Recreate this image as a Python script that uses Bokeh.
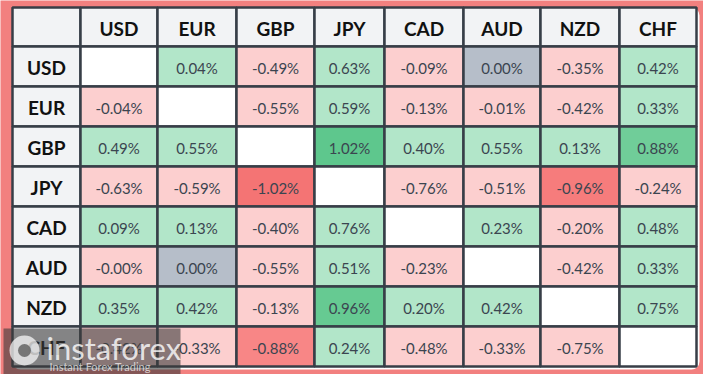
import math
from bokeh.plotting import figure
from bokeh.models import ColumnDataSource, Range1d, BoxAnnotation
from bokeh.core.properties import value
from bokeh.embed import file_html
from bokeh.resources import INLINE

# Currency strength matrix: percentage change of row currency against column currency
currencies = ["USD", "EUR", "GBP", "JPY", "CAD", "AUD", "NZD", "CHF"]
usd = [None, 0.04, -0.49, 0.63, -0.09, 0.00, -0.35, 0.42]
eur = [-0.04, None, -0.55, 0.59, -0.13, -0.01, -0.42, 0.33]
gbp = [0.49, 0.55, None, 1.02, 0.40, 0.55, 0.13, 0.88]
jpy = [-0.63, -0.59, -1.02, None, -0.76, -0.51, -0.96, -0.24]
cad = [0.09, 0.13, -0.40, 0.76, None, 0.23, -0.20, 0.48]
aud = [-0.0, 0.00, -0.55, 0.51, -0.23, None, -0.42, 0.33]
nzd = [0.35, 0.42, -0.13, 0.96, 0.20, 0.42, None, 0.75]
chf = [-0.42, -0.33, -0.88, 0.24, -0.48, -0.33, -0.75, None]
rows = [usd, eur, gbp, jpy, cad, aud, nzd, chf]

W, H = 703, 374
BG = "#f2807f"
GRID = "#373e47"
HEADER_BG = "#f2f3f5"

# table geometry (pixels)
x0, y0 = 12, 7
col_widths = [68, 77, 79, 78, 70, 79, 77, 79, 77]
row_heights = [39] + [40] * 8
col_edges = [x0]
for w in col_widths:
    col_edges.append(col_edges[-1] + w)
row_edges = [y0]
for h in row_heights:
    row_edges.append(row_edges[-1] + h)


def hex_to_rgb(h):
    h = h.lstrip("#")
    return tuple(int(h[i:i + 2], 16) for i in (0, 2, 4))


def mix(c1, c2, t):
    a, b = hex_to_rgb(c1), hex_to_rgb(c2)
    return "#%02x%02x%02x" % tuple(round(a[i] + (b[i] - a[i]) * t) for i in range(3))


def cell_color(v):
    if v is None:
        return "#ffffff"
    if v == 0 and math.copysign(1, v) > 0:
        return "#b6bec9"
    a = abs(v)
    if v > 0:
        light, mid, strong = "#b2e6c9", "#7ad1a0", "#5ec78d"
    else:
        light, mid, strong = "#fccfcf", "#fb9090", "#f47474"
    if a < 0.8:
        return light
    return mix(mid, strong, min(1.0, (a - 0.8) / 0.22))


p = figure(width=W, height=H, x_range=Range1d(0, W), y_range=Range1d(H, 0),
           toolbar_location=None, output_backend="svg", min_border=0)
p.axis.visible = False
p.grid.visible = False
p.outline_line_color = None
p.background_fill_color = BG
p.border_fill_color = BG

# white panel behind the table
p.add_layout(BoxAnnotation(left=x0, right=col_edges[-1] + 3, top=y0, bottom=row_edges[-1] + 3,
                           fill_color="#ffffff", fill_alpha=1, line_color=None,
                           border_radius=8, level="underlay"))

# cells
L, R, T, B, C, X, Y, LBL = [], [], [], [], [], [], [], []
HL, HR, HT, HB = [], [], [], []
hx, hy, htxt = [], [], []
for i in range(9):
    for j in range(9):
        l, r = col_edges[j], col_edges[j + 1]
        t, b = row_edges[i], row_edges[i + 1]
        if i == 0 or j == 0:
            HL.append(l); HR.append(r); HT.append(t); HB.append(b)
            name = currencies[j - 1] if i == 0 and j > 0 else (currencies[i - 1] if j == 0 and i > 0 else "")
            if name:
                hx.append((l + r) / 2); hy.append((t + b) / 2 + 1); htxt.append(name)
            continue
        v = rows[i - 1][j - 1]
        L.append(l); R.append(r); T.append(t); B.append(b)
        C.append(cell_color(v))
        if v is not None:
            X.append((l + r) / 2); Y.append((t + b) / 2 + 1); LBL.append(f"{v:.2f}%")

p.quad(left=HL, right=HR, top=HT, bottom=HB, fill_color=HEADER_BG,
       line_color=GRID, line_width=2.5)
p.quad(source=ColumnDataSource(dict(left=L, right=R, top=T, bottom=B, color=C)),
       left="left", right="right", top="top", bottom="bottom", fill_color="color",
       line_color=GRID, line_width=2.5)

p.text(x=hx, y=hy, text=htxt, text_font=value("Lato"), text_font_style="bold",
       text_font_size="19px", text_color="#111111", text_align="center",
       text_baseline="middle")
p.text(x=X, y=Y, text=LBL, text_font=value("Lato"), text_font_size="15px",
       text_color="#3b4550", text_align="center", text_baseline="middle")

# watermark: translucent dark band with logo and wordmark
p.quad(left=[3], right=[180], top=[328], bottom=[H], fill_color="#3a3a3a",
       fill_alpha=0.6, line_color=None)
p.scatter(x=[24], y=[350], size=30, marker="circle", fill_color="#ffffff",
          fill_alpha=0.7, line_color=None)
p.scatter(x=[24], y=[350], size=13, marker="circle", fill_color="#6a6a6a",
          fill_alpha=0.9, line_color=None)
p.text(x=[46], y=[347], text=["instaforex"], text_font=value("Lato"),
       text_font_size="31px", text_color="#ffffff", text_alpha=0.8,
       text_baseline="middle")
p.text(x=[49], y=[366], text=["Instant Forex Trading"], text_font=value("Lato"),
       text_font_size="11px", text_color="#ffffff", text_alpha=0.7,
       text_baseline="middle")

open("out.html", "w").write(file_html(p, INLINE))
